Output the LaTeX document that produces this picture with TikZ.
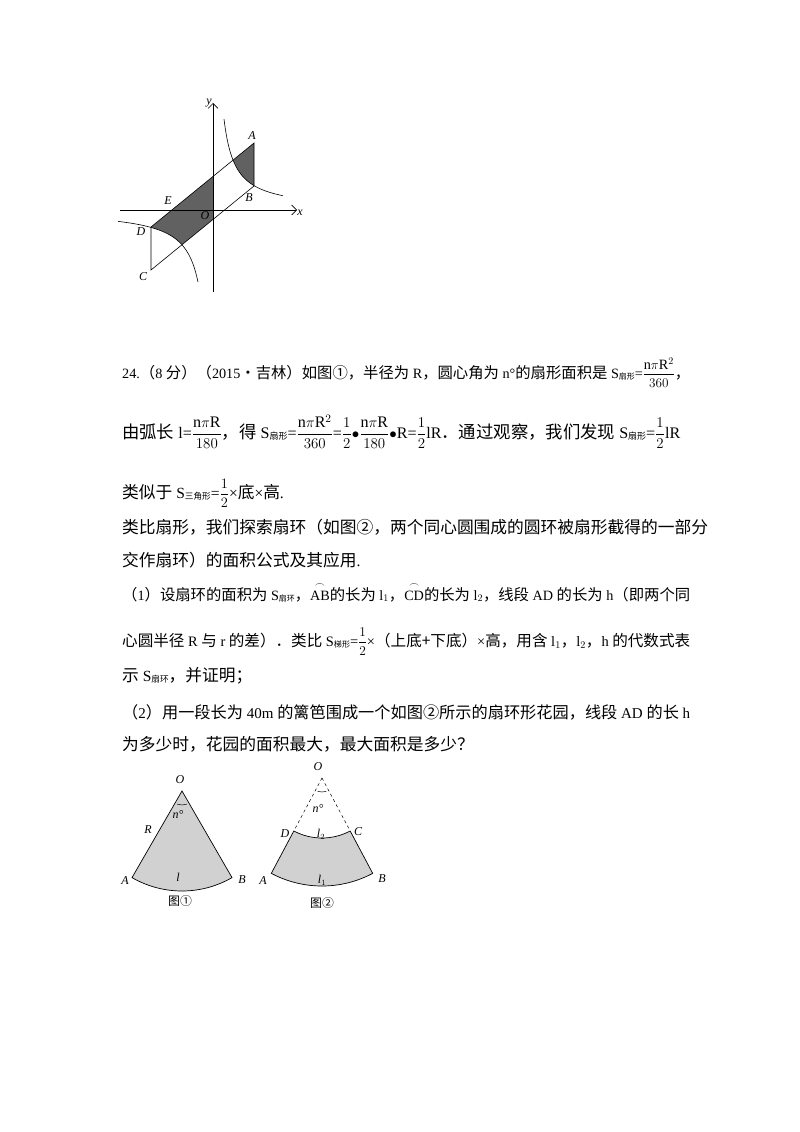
\documentclass[tikz,border=0pt]{standalone}
\usepackage{fontspec}
\usepackage{amsmath}
\usetikzlibrary{calc,arrows.meta}
\setmainfont{Liberation Serif}
\newfontfamily\zhf[Scale=1.08]{Noto Sans CJK SC}
\newcommand{\zh}[1]{{\zhf #1}}
\newcommand{\subz}[1]{\raisebox{-1.5pt}{\fontsize{8}{9}\zhf #1}}
\newcommand{\fr}[2]{\ensuremath{\displaystyle\frac{#1}{#2}}}
\begin{document}
\begin{tikzpicture}[x=1pt,y=-1pt,
  txt/.style={anchor=base west,inner sep=0pt,font=\fontsize{15.5}{18}\selectfont},
  lab/.style={font=\fontsize{12}{13}\itshape\selectfont,inner sep=1pt},
  sec/.style={fill=black!18,draw=black,line width=0.7pt}]
\useasboundingbox (0,0) rectangle (800,1132);
% ---------- top figure
\coordinate (A) at (254,143); \coordinate (B) at (254,186);
\coordinate (C) at (151,270); \coordinate (D) at (151,227);
\begin{scope}
\clip (A)--(B)--(C)--(D)--cycle;
\fill[black!62] plot[domain=-100:-9,samples=60] ({213+\x},{210-1080/\x}) -- (204,330) -- (213,330) -- (213,100) -- (100,100) -- cycle;
\fill[black!62] plot[domain=9:100,samples=60] ({213+\x},{210-1000/\x}) -- (313,100) -- (222,100) -- cycle;
\end{scope}
\draw[line width=0.6pt] (A)--(B)--(C)--(D)--cycle;
\draw[line width=0.6pt,-{Straight Barb[length=5pt]}] (213,292) -- (213,103) node[lab,left] (yl) {y};
\draw[line width=0.6pt,-{Straight Barb[length=5pt]}] (120,210) -- (297,210) node[lab,below right,inner sep=0pt] (xl) {x};
\draw[line width=0.6pt] plot[domain=11:70,samples=60] ({213+\x},{210-1000/\x});
\draw[line width=0.6pt] plot[domain=-95:-15,samples=60] ({213+\x},{210-1080/\x});
\node[lab] (la) at (252,136) {A};
\node[lab] (lb) at (249,198) {B};
\node[lab] (lc) at (143,277) {C};
\node[lab] (ld) at (141,232) {D};
\node[lab] (le) at (168,201) {E};
\node[lab] (lo) at (205,216) {O};
% ---------- text
\node[txt] (t1) at (122,378) {\resizebox{568pt}{!}{24.\zh{（}8 \zh{分）（}2015\zh{•吉林）如图①，半径为} R\zh{，圆心角为} n°\zh{的扇形面积是} S\subz{扇形}=\fr{\mathrm{n}\pi\mathrm{R}^2}{360}\zh{，}}};
\node[txt] (t2) at (122,438) {\resizebox{558pt}{!}{\zh{由弧长} l=\fr{\mathrm{n}\pi\mathrm{R}}{180}\zh{，得} S\subz{扇形}=\fr{\mathrm{n}\pi\mathrm{R}^2}{360}=\fr{1}{2}$\bullet$\fr{\mathrm{n}\pi\mathrm{R}}{180}$\bullet$R=\fr{1}{2}lR\zh{．通过观察，我们发现} S\subz{扇形}=\fr{1}{2}lR}};
\node[txt] (t3) at (122,498) {\zh{类似于} S\subz{三角形}=\fr{1}{2}×\zh{底}×\zh{高}.};
\node[txt] (t4) at (122,533) {\zh{类比扇形，我们探索扇环（如图②，两个同心圆围成的圆环被扇形截得的一部分}};
\node[txt] (t5) at (122,566) {\zh{交作扇环）的面积公式及其应用}.};
\node[txt] (t6) at (122,600) {\resizebox{568pt}{!}{\zh{（}1\zh{）设扇环的面积为} S\subz{扇环}\zh{，}$\overset{\frown}{\mathrm{AB}}$\zh{的长为} l$_1$\zh{，}$\overset{\frown}{\mathrm{CD}}$\zh{的长为} l$_2$\zh{，线段} AD \zh{的长为} h\zh{（即两个同}}};
\node[txt] (t7) at (122,646) {\resizebox{568pt}{!}{\zh{心圆半径} R \zh{与} r \zh{的差）．类比} S\subz{梯形}=\fr{1}{2}×\zh{（上底+下底）}×\zh{高，用含} l$_1$\zh{，}l$_2$\zh{，}h \zh{的代数式表}}};
\node[txt] (t8) at (122,681) {\zh{示} S\subz{扇环}\zh{，并证明；}};
\node[txt] (t9) at (122,718) {\resizebox{568pt}{!}{\zh{（}2\zh{）用一段长为} 40m \zh{的篱笆围成一个如图②所示的扇环形花园，线段} AD \zh{的长} h}};
\node[txt] (t10) at (122,750) {\zh{为多少时，花园的面积最大，最大面积是多少？}};
% ---------- figure 1
\coordinate (O1) at (182,791);
\path[sec] (O1) -- ($(O1)+(120:100)$) arc[start angle=120,end angle=60,radius=100] -- cycle;
\draw[line width=0.5pt] ($(O1)+(110:14)$) arc[start angle=110,end angle=70,radius=14];
\node[lab] (o1) at (180,780) {O};
\node[lab] (r1) at (148,830) {R};
\node[lab] (n1) at (178,814) {n°};
\node[lab] (l1) at (178,877) {l};
\node[lab] (a1) at (125,881) {A};
\node[lab] (b1) at (242,880) {B};
\node[inner sep=0pt,font=\zhf\fontsize{11}{12}\selectfont] (c1) at (180,901) {图①};
% ---------- figure 2
\coordinate (O2) at (322,778);
\path[sec] ($(O2)+(118:108)$) arc[start angle=118,end angle=62,radius=108] -- ($(O2)+(62:60)$) arc[start angle=62,end angle=118,radius=60] -- cycle;
\draw[dashed,line width=0.5pt] (O2) -- ($(O2)+(118:60)$);
\draw[dashed,line width=0.5pt] (O2) -- ($(O2)+(62:60)$);
\draw[line width=0.5pt] ($(O2)+(108:14)$) arc[start angle=108,end angle=72,radius=14];
\node[lab] (o2) at (318,767) {O};
\node[lab] (n2) at (318,808) {n°};
\node[lab] (d2) at (285,834) {D};
\node[lab] (cc2) at (358,832) {C};
\node[lab] (l22) at (321,834) {l$_2$};
\node[lab] (l21) at (322,880) {l$_1$};
\node[lab] (a2) at (263,881) {A};
\node[lab] (b2) at (382,879) {B};
\node[inner sep=0pt,font=\zhf\fontsize{11}{12}\selectfont] (c2) at (322,903) {图②};
\end{tikzpicture}
\end{document}
